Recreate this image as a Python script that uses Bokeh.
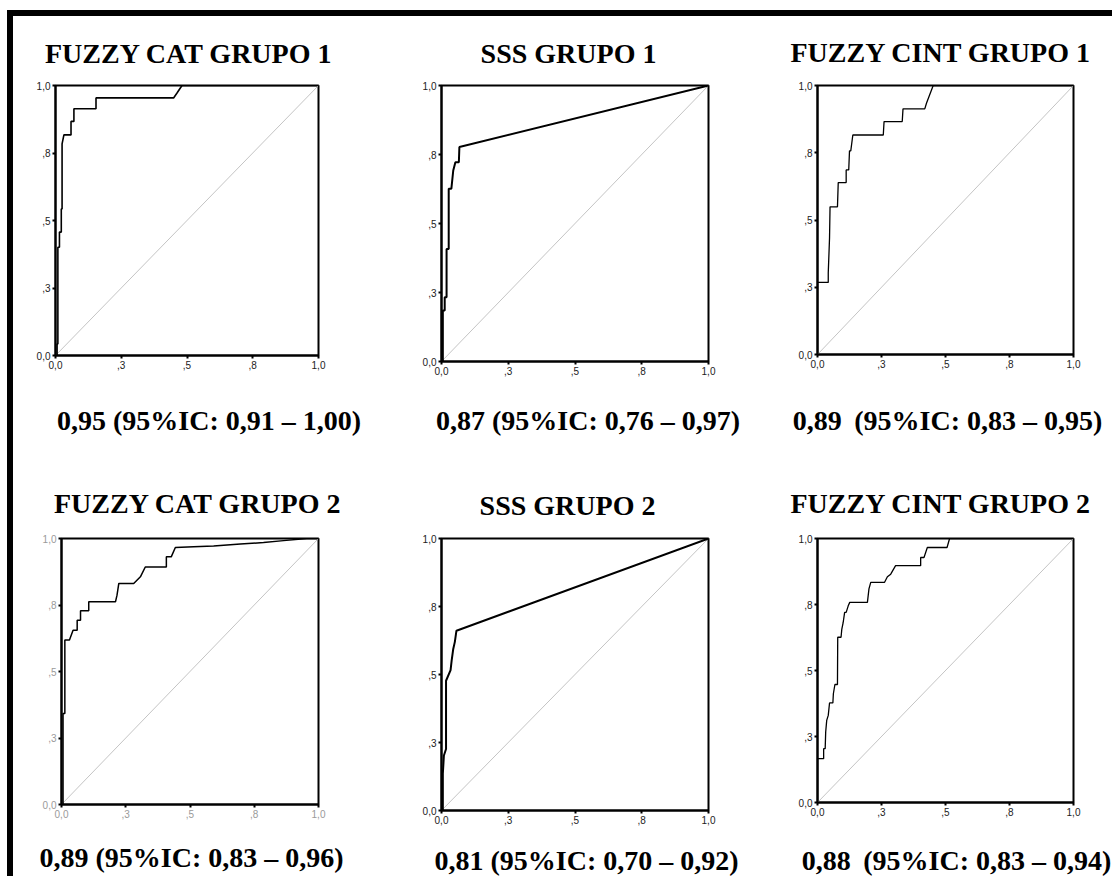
from bokeh.plotting import figure
from bokeh.models import Range1d, FixedTicker, Div, Spacer
from bokeh.core.properties import value
from bokeh.layouts import row, column
from bokeh.embed import file_html
from bokeh.resources import INLINE

# ---------------- data ----------------
titles = ["FUZZY CAT GRUPO 1", "SSS GRUPO 1", "FUZZY CINT GRUPO 1",
          "FUZZY CAT GRUPO 2", "SSS GRUPO 2", "FUZZY CINT GRUPO 2"]
auc_labels = ["0,95 (95%IC: 0,91 \u2013 1,00)", "0,87 (95%IC: 0,76 \u2013 0,97)",
              "0,89\u2009 (95%IC: 0,83 \u2013 0,95)", "0,89 (95%IC: 0,83 \u2013 0,96)",
              "0,81 (95%IC: 0,70 \u2013 0,92)", "0,88\u2009 (95%IC: 0,83 \u2013 0,94)"]
tick_values = [0.0, 0.25, 0.5, 0.75, 1.0]
tick_labels = ["0,0", ",3", ",5", ",8", "1,0"]
chance = [0.0, 1.0]

fpr_cat1 = [0.000, 0.006, 0.006, 0.009, 0.009, 0.015, 0.015, 0.022, 0.022, 0.025, 0.025,
            0.032, 0.059, 0.059, 0.070, 0.070, 0.154, 0.154, 0.449, 0.462, 0.481, 1.000]
tpr_cat1 = [0.000, 0.000, 0.043, 0.043, 0.401, 0.401, 0.457, 0.457, 0.543, 0.543, 0.784,
            0.817, 0.817, 0.867, 0.867, 0.914, 0.914, 0.954, 0.954, 0.972, 1.000, 1.000]

fpr_sss1 = [0.000, 0.005, 0.005, 0.012, 0.012, 0.019, 0.019, 0.027, 0.027, 0.037, 0.044,
            0.052, 0.065, 0.067, 1.000]
tpr_sss1 = [0.000, 0.000, 0.185, 0.185, 0.233, 0.233, 0.408, 0.408, 0.626, 0.626, 0.692,
            0.722, 0.722, 0.777, 1.000]

fpr_cint1 = [0.000, 0.000, 0.042, 0.042, 0.047, 0.049, 0.078, 0.081, 0.112, 0.112, 0.122,
             0.125, 0.130, 0.138, 0.257, 0.260, 0.331, 0.334, 0.419, 0.426, 0.452, 1.000]
tpr_cint1 = [0.000, 0.268, 0.268, 0.303, 0.433, 0.549, 0.549, 0.639, 0.639, 0.686, 0.686,
             0.757, 0.757, 0.816, 0.816, 0.866, 0.866, 0.913, 0.913, 0.935, 1.000, 1.000]

fpr_cat2 = [0.000, 0.006, 0.006, 0.013, 0.013, 0.031, 0.045, 0.061, 0.061, 0.074, 0.074,
            0.106, 0.106, 0.210, 0.216, 0.223, 0.281, 0.307, 0.326, 0.408, 0.408, 0.427,
            0.443, 0.514, 0.592, 0.696, 0.786, 0.864, 0.955, 1.000]
tpr_cat2 = [0.000, 0.000, 0.342, 0.342, 0.618, 0.618, 0.655, 0.655, 0.693, 0.693, 0.728,
            0.728, 0.762, 0.762, 0.787, 0.831, 0.831, 0.856, 0.893, 0.893, 0.931, 0.931,
            0.966, 0.969, 0.972, 0.979, 0.985, 0.992, 1.000, 1.000]

fpr_sss2 = [0.000, 0.005, 0.005, 0.009, 0.017, 0.017, 0.034, 0.038, 0.044, 0.050, 0.056, 1.000]
tpr_sss2 = [0.000, 0.000, 0.135, 0.202, 0.226, 0.477, 0.516, 0.551, 0.594, 0.620, 0.661, 1.000]

fpr_cint2 = [0.000, 0.000, 0.024, 0.024, 0.030, 0.032, 0.036, 0.042, 0.047, 0.060, 0.062,
             0.068, 0.078, 0.079, 0.092, 0.095, 0.100, 0.106, 0.112, 0.120, 0.126, 0.195,
             0.201, 0.208, 0.262, 0.273, 0.286, 0.305, 0.403, 0.403, 0.416, 0.429, 0.506,
             0.516, 1.000]
tpr_cint2 = [0.000, 0.166, 0.166, 0.204, 0.204, 0.267, 0.311, 0.330, 0.377, 0.377, 0.412,
             0.447, 0.447, 0.626, 0.626, 0.657, 0.680, 0.720, 0.720, 0.745, 0.758, 0.758,
             0.809, 0.834, 0.834, 0.855, 0.865, 0.897, 0.897, 0.928, 0.928, 0.966, 0.966,
             1.000, 1.000]

curves = [(fpr_cat1, tpr_cat1), (fpr_sss1, tpr_sss1), (fpr_cint1, tpr_cint1),
          (fpr_cat2, tpr_cat2), (fpr_sss2, tpr_sss2), (fpr_cint2, tpr_cint2)]

# ---------------- layout geometry (pixels) ----------------
GRID_W = 1099
ROC_TOP = 8
ROC_BOTTOM = 20
SERIF = "Liberation Serif"

# ROC frame geometry: frame size and side borders
roc_geom = [
    dict(fw=263, fh=270, l=42, r=62, lab="#222222", lw=1.6),
    dict(fw=267, fh=276, l=61, r=52, lab="#222222", lw=2.0),
    dict(fw=256, fh=269, l=57, r=39, lab="#222222", lw=1.3),
    dict(fw=257, fh=266, l=48, r=62, lab="#9a9a9a", lw=1.5),
    dict(fw=267, fh=272, l=61, r=52, lab="#222222", lw=2.0),
    dict(fw=256, fh=264, l=57, r=39, lab="#222222", lw=1.3),
]
# text strips: height, text centres (x) and text anchor rows (from strip top)
strips = [
    dict(h=61, cx=[175.5, 555, 927.5], base=[37, 37, 36], idx=[0, 1, 2], src="title"),
    dict(h=64, cx=[195.5, 574.5, 934], base=[39, 39, 39], idx=[0, 1, 2], src="auc"),
    dict(h=85, cx=[184.5, 554, 927.5], base=[58, 60, 58], idx=[3, 4, 5], src="title"),
    dict(h=46, cx=[178, 573, 943], base=[27, 30, 30], idx=[3, 4, 5], src="auc"),
]


def text_strip(s):
    h = s["h"]
    texts = titles if s["src"] == "title" else auc_labels
    f = figure(width=GRID_W, height=h, x_range=Range1d(0, GRID_W), y_range=Range1d(0, h),
               x_axis_type=None, y_axis_type=None, min_border=0,
               output_backend="svg", toolbar_location=None, tools="")
    f.xgrid.visible = False
    f.ygrid.visible = False
    f.outline_line_color = None
    f.border_fill_color = "white"
    f.background_fill_color = "white"
    f.text(x=s["cx"], y=[h - b for b in s["base"]], text=[texts[i] for i in s["idx"]],
           text_font=value(SERIF), text_font_style="bold", text_font_size="28px",
           text_color="black", text_align="center", text_baseline="alphabetic")
    return f


def roc_plot(fpr, tpr, g):
    p = figure(frame_width=g["fw"], frame_height=g["fh"],
               min_border_left=g["l"], min_border_right=g["r"],
               min_border_top=ROC_TOP, min_border_bottom=ROC_BOTTOM,
               x_range=Range1d(0, 1), y_range=Range1d(0, 1),
               output_backend="svg", toolbar_location=None, tools="")
    p.xgrid.visible = False
    p.ygrid.visible = False
    p.outline_line_color = "black"
    p.outline_line_width = 2
    p.outline_line_alpha = 1
    p.background_fill_color = "white"
    p.border_fill_color = "white"

    for ax in (p.xaxis[0], p.yaxis[0]):
        ax.ticker = FixedTicker(ticks=tick_values)
        ax.major_label_overrides = dict(zip(tick_values, tick_labels))
        ax.axis_line_width = 2
        ax.axis_line_color = "black"
        ax.major_tick_line_width = 2
        ax.major_tick_line_color = "black"
        ax.major_tick_out = 3
        ax.major_tick_in = 0
        ax.minor_tick_out = 0
        ax.minor_tick_in = 0
        ax.major_label_text_font = "Liberation Sans"
        ax.major_label_text_font_size = "10px"
        ax.major_label_text_color = g["lab"]
        ax.major_label_standoff = 2

    p.line(chance, chance, line_color="#c4c4c4", line_width=1)
    p.line(fpr, tpr, line_color="black", line_width=g["lw"])
    return p


rocs = [roc_plot(c[0], c[1], g) for c, g in zip(curves, roc_geom)]

grid = column(
    text_strip(strips[0]),
    row(*rocs[:3]),
    text_strip(strips[1]),
    text_strip(strips[2]),
    row(*rocs[3:]),
    text_strip(strips[3]),
)
top_bar = Div(text="", width=1105, height=6, margin=0, styles={"background-color": "black"})
left_bar = Div(text="", width=6, height=860, margin=0, styles={"background-color": "black"})

page = column(
    Spacer(height=10, width=1112, margin=0),
    row(Spacer(width=7, height=6, margin=0), top_bar),
    row(Spacer(width=7, height=860, margin=0), left_bar, grid),
)

open("out.html", "w").write(file_html(page, INLINE))
